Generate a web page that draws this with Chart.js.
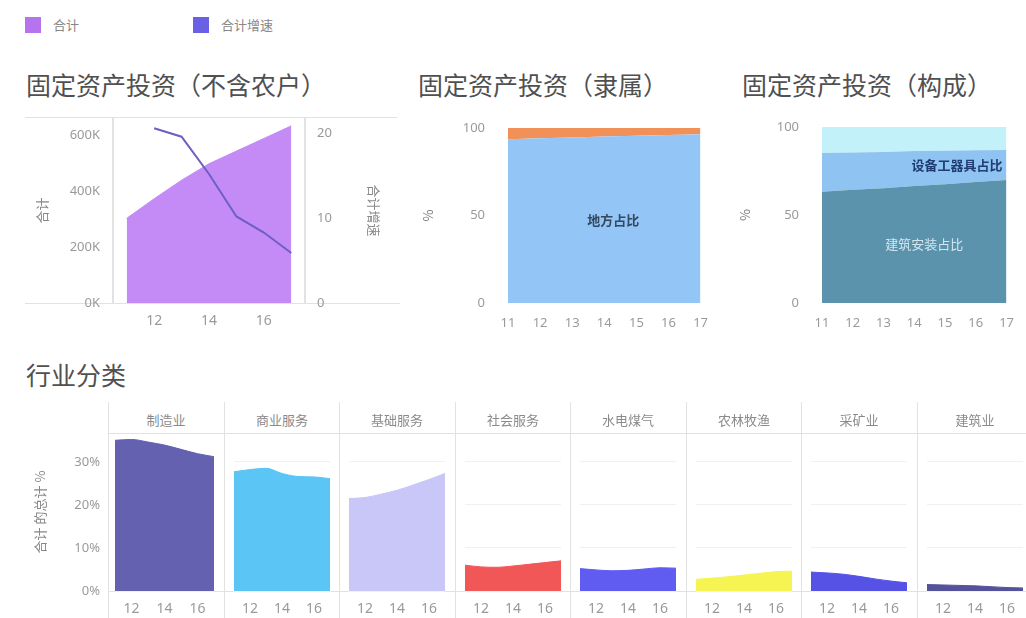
<!DOCTYPE html>
<html>
<head>
<meta charset="utf-8">
<script src="https://cdn.jsdelivr.net/npm/chart.js@4.4.1/dist/chart.umd.min.js"></script>
<style>
  body { margin: 0; width: 1026px; height: 618px; position: relative; overflow: hidden; background: #fff;
         font-family: "Noto Sans CJK SC", "Noto Sans", sans-serif; }
  canvas { position: absolute; }
  .title { position: absolute; font-size: 25px; color: #505050; white-space: nowrap; line-height: 1; }
  .leg { position: absolute; font-size: 13px; color: #888; line-height: 16px; }
  .leg i { position: absolute; left: 0; top: 0; width: 16px; height: 16px; }
  .leg span { position: absolute; left: 28px; top: 0; white-space: nowrap; }
  .hl { position: absolute; height: 1px; background: #e2e2e2; }
  .vl { position: absolute; width: 1px; background: #e2e2e2; }
  .hdr { position: absolute; top: 410px; height: 20px; font-size: 13px; color: #8a8a8a; text-align: center; line-height: 20px; }
</style>
</head>
<body>

<div class="leg" style="left:25px;top:17px"><i style="background:#b574ee"></i><span>合计</span></div>
<div class="leg" style="left:193px;top:17px"><i style="background:#6a60e6"></i><span>合计增速</span></div>

<div class="title" style="left:26px;top:72px">固定资产投资（不含农户）</div>
<div class="title" style="left:418px;top:72px">固定资产投资（隶属）</div>
<div class="title" style="left:742px;top:72px">固定资产投资（构成）</div>
<div class="title" style="left:26px;top:362px">行业分类</div>

<div class="hl" style="left:25px;top:117px;width:372px"></div>
<div class="hl" style="left:25px;top:303px;width:375px"></div>

<canvas id="c1" width="410" height="225" style="left:0;top:110px"></canvas>
<canvas id="c2" width="320" height="225" style="left:400px;top:110px"></canvas>
<canvas id="c3" width="306" height="225" style="left:720px;top:110px"></canvas>

<div id="bottom"></div>

<script>
// years on the x axis, only some of them get a label
const years = ['11', '12', '13', '14', '15', '16', '17'];
const shortTicks = ['12', '14', '16'];

// 固定资产投资（不含农户）
const totalInvest = [302000, 372000, 438000, 497000, 542000, 587000, 632000];
const totalGrowth = [null, 20.6, 19.6, 15.2, 10.2, 8.3, 5.9];
const investTicks = [0, 200000, 400000, 600000];
const growthTicks = [0, 10, 20];

// 隶属
const localShare = [93.6, 94.1, 94.6, 95.1, 95.6, 96.0, 96.4];
const centralShare = [6.4, 5.9, 5.4, 4.9, 4.4, 4.0, 3.6];

// 构成
const buildShare = [63.2, 64.3, 65.2, 66.5, 67.5, 68.8, 69.9];
const equipShare = [22.0, 21.2, 20.6, 19.8, 19.0, 18.0, 17.0];
const otherShare = [14.8, 14.5, 14.2, 13.7, 13.5, 13.2, 13.1];
const shareTicks = [0, 50, 100];

// 行业分类 (合计 的总计 %)
const industries = ['制造业', '商业服务', '基础服务', '社会服务', '水电煤气', '农林牧渔', '采矿业', '建筑业'];
const manufacturing = [35.0, 35.2, 34.6, 33.9, 32.9, 31.9, 31.2];
const businessSvc = [27.7, 28.2, 28.5, 27.3, 26.6, 26.5, 26.1];
const basicSvc = [21.5, 21.7, 22.5, 23.4, 24.6, 25.9, 27.3];
const socialSvc = [6.0, 5.6, 5.5, 5.8, 6.2, 6.6, 7.0];
const utilities = [5.2, 4.9, 4.7, 4.8, 5.1, 5.4, 5.3];
const agriculture = [2.7, 3.0, 3.3, 3.7, 4.1, 4.5, 4.6];
const mining = [4.4, 4.2, 3.9, 3.4, 2.8, 2.3, 1.9];
const construction = [1.5, 1.4, 1.3, 1.2, 1.0, 0.8, 0.7];
const industryData = [manufacturing, businessSvc, basicSvc, socialSvc, utilities, agriculture, mining, construction];
const industryColors = ['#6461b1', '#5bc6f5', '#c9c6f8', '#f25757', '#605cf2', '#f5f453', '#5652e6', '#55529c'];
const pctTicks = [0, 10, 20, 30];

const tickFont = { family: 'Noto Sans', size: 13 };
const tickColor = '#9a9a9a';
const titleFont = { family: 'Noto Sans CJK SC', size: 13 };

function yearTick(only) {
  return function (v) {
    const l = this.getLabelForValue(v);
    return !only || only.includes(l) ? l : '';
  };
}

function fixTicks(list) {
  return s => { s.ticks = list.map(v => ({ value: v })); };
}

// fixed axis width, and no extra room above/below for the tick labels
function fitY(w) {
  return s => { s.width = w; s.paddingTop = 0; s.paddingBottom = 0; };
}

// writes the series name in the middle of its band
const bandLabels = {
  id: 'bandLabels',
  afterDatasetsDraw(chart, args, opts) {
    const ctx = chart.ctx;
    const xs = chart.scales.x, ys = chart.scales.y;
    (opts.items || []).forEach(it => {
      let below = 0;
      for (let d = 0; d < it.dataset; d++) below += chart.data.datasets[d].data[it.index];
      const v = chart.data.datasets[it.dataset].data[it.index];
      ctx.save();
      ctx.font = it.font;
      ctx.fillStyle = it.color;
      ctx.textAlign = it.align || 'center';
      ctx.textBaseline = 'middle';
      ctx.fillText(chart.data.datasets[it.dataset].label, xs.getPixelForValue(it.index) + (it.dx || 0), ys.getPixelForValue(below + v / 2));
      ctx.restore();
    });
  }
};
Chart.register(bandLabels);

// chart 1
new Chart(document.getElementById('c1'), {
  type: 'line',
  data: {
    labels: years,
    datasets: [{
      label: '合计增速',
      data: totalGrowth,
      yAxisID: 'y2',
      borderColor: '#6d5fc6',
      borderWidth: 2,
      pointRadius: 0,
      fill: false,
      order: 0
    }, {
      label: '合计',
      data: totalInvest,
      yAxisID: 'y',
      backgroundColor: '#c48bf6',
      borderColor: '#c48bf6',
      borderWidth: 1,
      pointRadius: 0,
      fill: 'origin',
      order: 1
    }]
  },
  options: {
    responsive: false,
    animation: false,
    layout: { padding: { top: 8 } },
    plugins: { legend: { display: false }, tooltip: { enabled: false }, bandLabels: { items: [] } },
    scales: {
      x: {
        offset: true,
        grid: { display: false, drawTicks: false },
        border: { display: false },
        ticks: { autoSkip: false, maxRotation: 0, padding: 10, color: tickColor, font: { family: 'Noto Sans', size: 14 }, callback: yearTick(shortTicks) },
        afterFit: s => { s.height = 32; }
      },
      y: {
        position: 'left',
        min: 0,
        max: 660000,
        grid: { display: false, drawTicks: false },
        border: { color: '#e2e2e2', width: 2 },
        ticks: { padding: 13, color: tickColor, font: tickFont, callback: v => (v / 1000) + 'K' },
        afterBuildTicks: fixTicks(investTicks),
        title: { display: true, text: '合计', color: '#888', font: titleFont, padding: { top: 34 } },
        afterFit: fitY(113)
      },
      y2: {
        position: 'right',
        min: 0,
        max: 21.8,
        grid: { display: false, drawTicks: false },
        border: { color: '#e2e2e2', width: 2 },
        ticks: { padding: 12, color: tickColor, font: tickFont },
        afterBuildTicks: fixTicks(growthTicks),
        title: { display: true, text: '合计增速', color: '#888', font: titleFont, padding: { top: 28 } },
        afterFit: fitY(105)
      }
    }
  }
});

function shareChart(id, sets, left, right, top, titlePad, labels) {
  return new Chart(document.getElementById(id), {
    type: 'line',
    data: { labels: years, datasets: sets },
    options: {
      responsive: false,
      animation: false,
      layout: { padding: { top: top, right: right } },
      plugins: { legend: { display: false }, tooltip: { enabled: false }, bandLabels: { items: labels } },
      elements: { point: { radius: 0 }, line: { borderWidth: 0 } },
      scales: {
        x: {
          grid: { display: false, drawTicks: false },
          border: { display: false },
          ticks: { autoSkip: false, maxRotation: 0, padding: 12, color: tickColor, font: tickFont, callback: yearTick(null) },
          afterFit: s => { s.height = 32; }
        },
        y: {
          stacked: true,
          min: 0,
          max: 100,
          grid: { display: false, drawTicks: false },
          border: { display: false },
          ticks: { padding: 23, color: tickColor, font: tickFont },
          afterBuildTicks: fixTicks(shareTicks),
          title: { display: true, text: '%', color: '#777', font: titleFont, padding: { top: titlePad } },
          afterFit: fitY(left)
        }
      }
    }
  });
}

shareChart('c2', [
  { label: '地方占比', data: localShare, backgroundColor: '#93c6f7', borderColor: '#93c6f7', fill: 'origin' },
  { label: '中央占比', data: centralShare, backgroundColor: '#f19158', borderColor: '#f19158', fill: '-1' }
], 108, 12, 18, 20, [
  { dataset: 0, index: 3, dx: 9, font: 'bold 13px "Noto Sans CJK SC"', color: '#34485e' }
]);

shareChart('c3', [
  { label: '建筑安装占比', data: buildShare, backgroundColor: '#5b92ac', borderColor: '#5b92ac', fill: 'origin' },
  { label: '设备工器具占比', data: equipShare, backgroundColor: '#8fc4f2', borderColor: '#8fc4f2', fill: '-1' },
  { label: '其他费用占比', data: otherShare, backgroundColor: '#c3f1fa', borderColor: '#c3f1fa', fill: '-1' }
], 102, 9, 17, 17, [
  { dataset: 0, index: 3, dx: 10, font: '13px "Noto Sans CJK SC"', color: '#d3e6ef' },
  { dataset: 1, index: 6, dx: -4, align: 'right', font: 'bold 13px "Noto Sans CJK SC"', color: '#1f3d70' }
]);

// bottom small multiples
const bottom = document.getElementById('bottom');
const panelLeft = 108, panelW = 115.5;
let html = '<div class="hl" style="left:108px;top:433px;width:918px"></div>' +
           '<div class="hl" style="left:108px;top:591px;width:918px"></div>';
industries.forEach((name, i) => {
  const x = Math.round(panelLeft + panelW * i);
  html += '<div class="vl" style="left:' + x + 'px;top:402px;height:216px"></div>';
  html += '<div class="hdr" style="left:' + x + 'px;width:' + Math.round(panelW) + 'px">' + name + '</div>';
  const cl = i === 0 ? 0 : x;
  const cw = i === 0 ? 224 : 116;
  html += '<canvas id="p' + i + '" width="' + cw + '" height="185" style="left:' + cl + 'px;top:433px"></canvas>';
});
bottom.innerHTML = html;

industries.forEach((name, i) => {
  const first = i === 0;
  new Chart(document.getElementById('p' + i), {
    type: 'line',
    data: {
      labels: years,
      datasets: [{
        label: name,
        data: industryData[i],
        backgroundColor: industryColors[i],
        borderColor: industryColors[i],
        borderWidth: 1,
        pointRadius: 0,
        fill: 'origin',
        cubicInterpolationMode: 'monotone'
      }]
    },
    options: {
      responsive: false,
      animation: false,
      layout: { padding: { left: first ? 0 : 7, right: first ? 7 : 9 } },
      plugins: { legend: { display: false }, tooltip: { enabled: false }, bandLabels: { items: [] } },
      scales: {
        x: {
          grid: { display: false, drawTicks: false },
          border: { display: false },
          ticks: { autoSkip: false, maxRotation: 0, padding: 10, color: tickColor, font: { family: 'Noto Sans', size: 14 }, callback: yearTick(shortTicks) },
          afterFit: s => { s.height = 27; }
        },
        y: {
          min: 0,
          max: 36.7,
          grid: { color: '#f1f1f1', drawTicks: false },
          border: { display: false },
          ticks: { display: first, padding: 15, color: tickColor, font: tickFont, callback: v => v + '%' },
          afterBuildTicks: fixTicks(pctTicks),
          title: { display: first, text: '合计 的总计 %', color: '#888', font: titleFont, padding: { top: 32 } },
          afterFit: fitY(first ? 115 : 0)
        }
      }
    }
  });
});
</script>
</body>
</html>
